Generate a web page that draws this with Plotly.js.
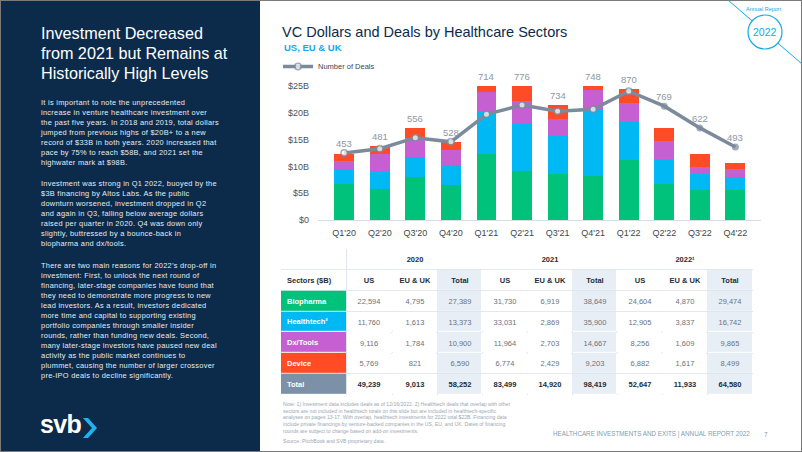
<!DOCTYPE html>
<html>
<head>
<meta charset="utf-8">
<script src="https://cdn.plot.ly/plotly-3.0.1.min.js"></script>
<style>
  html, body { margin:0; padding:0; background:#ffffff; }
  #page { position:relative; width:802px; height:452px; overflow:hidden; background:#ffffff; font-family:"Liberation Sans", Arial, sans-serif; }
  #left { position:absolute; left:0; top:0; width:260px; height:452px; background:#0c2b4b; }
  #left .ttl { position:absolute; left:41px; top:23px; width:215px; color:#ffffff; font-size:16.2px; line-height:20px; }
  #left .para { position:absolute; left:41px; width:215px; color:#e6ecf2; font-size:7.4px; line-height:10px; letter-spacing:0.28px; white-space:nowrap; }
  #logo { position:absolute; left:40px; top:409px; color:#ffffff; font-weight:bold; font-size:25px; letter-spacing:-0.6px; line-height:30px; }
  #logo svg { position:absolute; left:43px; top:9px; }
  #chart { position:absolute; left:260px; top:0; width:542px; height:452px; }
  #frame { position:absolute; left:0; top:0; width:802px; height:452px; box-sizing:border-box; border:1px solid #7a7a7a; pointer-events:none; z-index:10; }
</style>
</head>
<body>
<div id="page">
  <div id="left">
    <div class="ttl">Investment Decreased<br>from 2021 but Remains at<br>Historically High Levels</div>
    <div class="para" style="top:98px">It is important to note the unprecedented<br>increase in venture healthcare investment over<br>the past five years. In 2018 and 2019, total dollars<br>jumped from previous highs of $20B+ to a new<br>record of $33B in both years. 2020 increased that<br>pace by 75% to reach $58B, and 2021 set the<br>highwater mark at $98B.</div>
    <div class="para" style="top:179px">Investment was strong in Q1 2022, buoyed by the<br>$3B financing by Altos Labs. As the public<br>downturn worsened, investment dropped in Q2<br>and again in Q3, falling below average dollars<br>raised per quarter in 2020. Q4 was down only<br>slightly, buttressed by a bounce-back in<br>biopharma and dx/tools.</div>
    <div class="para" style="top:261px">There are two main reasons for 2022’s drop-off in<br>investment: First, to unlock the next round of<br>financing, later-stage companies have found that<br>they need to demonstrate more progress to new<br>lead investors. As a result, investors dedicated<br>more time and capital to supporting existing<br>portfolio companies through smaller insider<br>rounds, rather than funding new deals. Second,<br>many later-stage investors have paused new deal<br>activity as the public market continues to<br>plummet, causing the number of larger crossover<br>pre-IPO deals to decline significantly.</div>
    <div id="logo">svb<svg width="14" height="20" viewBox="0 0 14 20"><polygon points="0,0 5,0 14,10 5,20 0,20 9,10" fill="#1fb3f0"/></svg></div>
  </div>
  <div id="chart"></div>
  <div id="frame"></div>
</div>
<script>
// ---------------- data ----------------
const quarters   = ["Q1'20","Q2'20","Q3'20","Q4'20","Q1'21","Q2'21","Q3'21","Q4'21","Q1'22","Q2'22","Q3'22","Q4'22"];
const biopharma  = [6.7, 5.85, 8.0, 6.5, 12.4, 9.2, 8.5, 8.2, 11.25, 6.7, 5.6, 5.6];
const healthtech = [2.9, 3.2, 3.7, 3.6, 7.8, 8.65, 7.25, 12.45, 7.1, 4.7, 2.9, 2.3];
const dxtools    = [1.4, 3.3, 3.6, 2.9, 3.6, 4.4, 3.1, 3.6, 3.55, 3.4, 1.45, 1.6];
const device     = [1.4, 1.4, 1.9, 1.6, 1.8, 3.4, 2.6, 1.6, 2.5, 2.4, 2.35, 1.2];
const deals      = [453, 481, 556, 528, 714, 776, 734, 748, 870, 769, 622, 493];

const yTickVals  = [0, 5, 10, 15, 20, 25];
const yTickText  = ["$0", "$5B", "$10B", "$15B", "$20B", "$25B"];

const tableHead  = "Sectors ($B)";
const sectors    = ["Biopharma", "Healthtech²", "Dx/Tools", "Device", "Total"];
const years      = ["2020", "2021", "2022¹"];
const subHeads   = ["US", "EU & UK", "Total"];
const us2020  = [22594, 11760, 9116, 5769, 49239];
const eu2020  = [4795, 1613, 1784, 821, 9013];
const tot2020 = [27389, 13373, 10900, 6590, 58252];
const us2021  = [31730, 33031, 11964, 6774, 83499];
const eu2021  = [6919, 2869, 2703, 2429, 14920];
const tot2021 = [38649, 35900, 14667, 9203, 98419];
const us2022  = [24604, 12905, 8256, 6882, 52647];
const eu2022  = [4870, 3837, 1609, 1617, 11933];
const tot2022 = [29474, 16742, 9865, 8499, 64580];

// ---------------- styling ----------------
const C_BIO = "#00c27a", C_HT = "#00b8f4", C_DX = "#c660d2", C_DEV = "#ff4b26", C_TOT = "#7c90a8";
const C_LINE = "#7b8b9c", C_NAVY = "#0c2b4b", C_CYAN = "#14a9e6", C_SHADE = "#e8eef6", C_BORDER = "#dfe5ec";
const C_DARK = "#1d2c3c", C_VAL = "#6a737d";
const FONT = "Liberation Sans, Arial, sans-serif";
const W = 542, H = 452, OX = 260;
const px = x => (x - OX) / W;
const py = y => 1 - y / H;
const YMAX = 25, Y2MAX = 905;

const barCommon = { type: "bar", x: quarters, showlegend: false, hoverinfo: "skip" };
const traces = [
  Object.assign({}, barCommon, { name: "Biopharma",  y: biopharma,  marker: { color: C_BIO } }),
  Object.assign({}, barCommon, { name: "Healthtech", y: healthtech, marker: { color: C_HT } }),
  Object.assign({}, barCommon, { name: "Dx/Tools",   y: dxtools,    marker: { color: C_DX } }),
  Object.assign({}, barCommon, { name: "Device",     y: device,     marker: { color: C_DEV } }),
  {
    type: "scatter", mode: "lines+markers", name: "Number of Deals",
    x: quarters, y: deals, yaxis: "y2", showlegend: true,
    line: { color: C_LINE, width: 3.5 },
    marker: {
      size: deals.map((d, i) => i < 9 ? 6.5 : 5.5),
      color: deals.map((d, i) => i < 9 ? "#ffffff" : C_LINE),
      line: { color: C_LINE, width: 1.5 }
    }
  }
];

// ---------------- table (heatmap cells on their own axes) ----------------
const fmt = v => v.toLocaleString("en-US");
const dark = s => '<span style="color:' + C_DARK + '"><b>' + s + '</b></span>';
const dataCols = [us2020, eu2020, tot2020, us2021, eu2021, tot2021, us2022, eu2022, tot2022];
const colWidths = [65.7].concat(Array(9).fill(44.9));
const xEdges = [0];
colWidths.forEach(w => xEdges.push(xEdges[xEdges.length - 1] + w / 44.9));
const palette = ["#ffffff", C_SHADE, C_BIO, C_HT, C_DX, C_DEV, C_TOT];
const cscale = palette.map((c, k) => [k / (palette.length - 1), c]);

const bodyZ = [], bodyText = [];
bodyZ.push([0].concat(dataCols.map((c, ci) => ci % 3 === 2 ? 1 : 0)));
bodyText.push([""].concat(dataCols.map((c, ci) => dark(subHeads[ci % 3]))));
sectors.forEach((s, ri) => {
  bodyZ.push([2 + ri].concat(dataCols.map((c, ci) => ci % 3 === 2 ? 1 : 0)));
  bodyText.push([""].concat(dataCols.map(c => ri === sectors.length - 1 ? dark(fmt(c[ri])) : fmt(c[ri]))));
});
const rowEdges = [1, 2, 3, 4, 5, 6, 7];
traces.push({
  type: "heatmap", xaxis: "x3", yaxis: "y3", x: xEdges, y: rowEdges, z: bodyZ,
  text: bodyText, texttemplate: "%{text}", textfont: { family: FONT, size: 7.5, color: C_VAL },
  colorscale: cscale, zmin: 0, zmax: palette.length - 1, showscale: false, xgap: 1, ygap: 1, hoverinfo: "skip"
});
const yearEdges = [0, xEdges[1], xEdges[4], xEdges[7], xEdges[10]];
traces.push({
  type: "heatmap", xaxis: "x3", yaxis: "y3", x: yearEdges, y: [0, 1], z: [[null, 0, 0, 0]],
  text: [[""].concat(years.map(dark))], texttemplate: "%{text}", textfont: { family: FONT, size: 7.5, color: C_DARK },
  colorscale: cscale, zmin: 0, zmax: palette.length - 1, showscale: false, xgap: 1, ygap: 1, hoverinfo: "skip"
});
const rowLabelVals = [1.5, 2.5, 3.5, 4.5, 5.5, 6.5];
const rowLabelText = [dark(tableHead)].concat(sectors.map(s => "<b>" + s + "</b>"));

// deal labels
const annotations = quarters.map((q, i) => {
  const barTop = Math.min(YMAX, biopharma[i] + healthtech[i] + dxtools[i] + device[i]);
  const lineY = deals[i] * YMAX / Y2MAX;
  return {
    xref: "x", yref: "y", x: q, y: Math.max(barTop, lineY), yanchor: "bottom",
    yshift: 2, showarrow: false, text: String(deals[i]),
    font: { family: FONT, size: 9.5, color: "#8b97a4" }
  };
});
annotations.push(
  { xref: "paper", yref: "paper", x: px(282), y: py(47), xanchor: "left", yanchor: "middle", showarrow: false,
    text: "<b>US, EU & UK</b>", font: { family: FONT, size: 9.5, color: C_CYAN } },
  { xref: "paper", yref: "paper", x: px(281), y: py(399), xanchor: "left", yanchor: "top", showarrow: false, align: "left",
    text: "Note: 1) Investment data includes deals as of 12/16/2022. 2) Healthtech deals that overlap with other<br>sectors are not included in healthtech totals on this slide but are included in healthtech-specific<br>analyses on pages 13-17. With overlap, healthtech investments for 2022 total $22B. Financing data<br>include private financings by venture-backed companies in the US, EU, and UK. Dates of financing<br>rounds are subject to change based on add-on investments.",
    font: { family: FONT, size: 5.1, color: "#9aa6b3" } },
  { xref: "paper", yref: "paper", x: px(281), y: py(440.5), xanchor: "left", yanchor: "middle", showarrow: false,
    text: "Source: PitchBook and SVB proprietary data.",
    font: { family: FONT, size: 5.1, color: "#9aa6b3" } },
  { xref: "paper", yref: "paper", x: px(752), y: py(434), xanchor: "right", yanchor: "middle", showarrow: false,
    text: "HEALTHCARE INVESTMENTS AND EXITS | ANNUAL REPORT 2022",
    font: { family: FONT, size: 6.3, color: "#7f9ab3" } },
  { xref: "paper", yref: "paper", x: px(766), y: py(434), xanchor: "center", yanchor: "middle", showarrow: false,
    text: "7", font: { family: FONT, size: 6.4, color: "#7f9ab3" } },
  { xref: "paper", yref: "paper", x: px(764), y: py(9), xanchor: "center", yanchor: "middle", showarrow: false,
    text: "Annual Report", font: { family: FONT, size: 5.5, color: C_CYAN } },
  { xref: "paper", yref: "paper", x: px(765), y: py(32), xanchor: "center", yanchor: "middle", showarrow: false,
    text: "2022", font: { family: FONT, size: 10.5, color: C_CYAN } }
);

const shapes = [
  { type: "line", xref: "paper", yref: "paper", x0: px(728), y0: py(0), x1: px(802), y1: py(64), line: { color: C_CYAN, width: 1 } },
  { type: "circle", xref: "paper", yref: "paper", x0: px(748), y0: py(15), x1: px(782), y1: py(49), line: { color: C_CYAN, width: 1.2 }, fillcolor: "#ffffff" }
];

const layout = {
  width: W, height: H,
  margin: { l: 0, r: 0, t: 0, b: 0 },
  paper_bgcolor: "#ffffff", plot_bgcolor: "#ffffff",
  barmode: "stack", bargap: 0.44,
  font: { family: FONT, color: "#444" },
  title: { text: "VC Dollars and Deals by Healthcare Sectors", xref: "paper", yref: "paper", x: px(282), y: py(32), xanchor: "left", yanchor: "middle",
           font: { family: FONT, size: 14.5, color: C_NAVY } },
  xaxis: { domain: [px(318), px(761)], anchor: "y", showgrid: false, zeroline: false, showline: true, linecolor: "#d8dde3", linewidth: 1,
           ticks: "", tickfont: { size: 9, color: "#3d4650" }, ticklabelstandoff: 4, fixedrange: true },
  yaxis: { domain: [py(220), py(86)], anchor: "x", range: [0, YMAX], tickvals: yTickVals, ticktext: yTickText, showgrid: false, zeroline: false,
           showline: false, ticks: "", tickfont: { size: 9, color: "#4c5560" }, ticklabelstandoff: 8, fixedrange: true },
  yaxis2: { overlaying: "y", range: [0, Y2MAX], visible: false, fixedrange: true },
  xaxis3: { domain: [px(281), px(752.5)], anchor: "y3", range: [0, xEdges[xEdges.length - 1]], showticklabels: false, showgrid: false,
            zeroline: false, showline: false, ticks: "", fixedrange: true,
            minor: { tickvals: xEdges.slice(1), showgrid: true, gridcolor: C_BORDER, gridwidth: 1, ticks: "" } },
  yaxis3: { domain: [py(394.7), py(249)], anchor: "x3", range: [7, 0], tickvals: rowLabelVals, ticktext: rowLabelText,
            ticklabelposition: "inside", ticklabelstandoff: 3, tickfont: { family: FONT, size: 7.5, color: "#ffffff" },
            showgrid: false, zeroline: false, showline: false, ticks: "", fixedrange: true,
            minor: { tickvals: rowEdges, showgrid: true, gridcolor: C_BORDER, gridwidth: 1, ticks: "" } },
  showlegend: true,
  legend: { x: px(278), y: py(52), xanchor: "left", yanchor: "top", orientation: "h", bgcolor: "rgba(0,0,0,0)",
            font: { size: 7.5, color: "#3d4650" }, itemwidth: 30, tracegroupgap: 0 },
  annotations: annotations,
  shapes: shapes
};

Plotly.newPlot("chart", traces, layout, { displayModeBar: false, staticPlot: true });
</script>
</body>
</html>
